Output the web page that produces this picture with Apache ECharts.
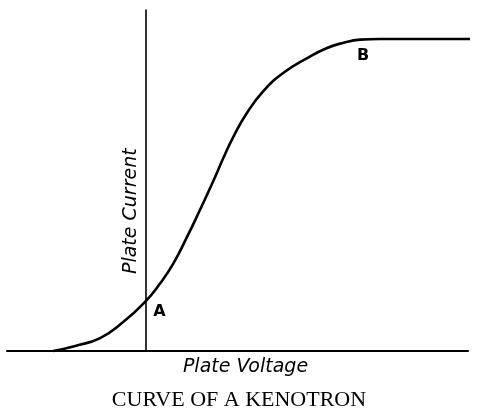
<!DOCTYPE html>
<html>
<head>
<meta charset="utf-8">
<script src="https://cdn.jsdelivr.net/npm/echarts@6/dist/echarts.min.js"></script>
<style>
  html, body { margin: 0; padding: 0; background: #fff; }
  #chart { width: 478px; height: 409px; }
</style>
</head>
<body>
<div id="chart"></div>
<script>
// Plate voltage, arbitrary units, zero where the current axis stands
const voltage = [-20, -15.2, -9.8, -4.8, 0, 3.2, 6.1, 9.0, 11.9, 14.8, 16.9, 19.1, 22.0, 25.6, 29.9, 35.0, 39.3, 43.0, 46.6, 50.9, 72.1];
// Plate current, arbitrary units (saturates at the top)
const current = [0, 1.5, 3.8, 8.5, 14.5, 19.8, 25.7, 33.3, 41.5, 50.0, 56.5, 62.8, 69.7, 76.2, 81.5, 85.8, 88.8, 90.4, 91.3, 91.5, 91.5];
// Letters marking points on the curve, keyed by index
const pointNames = { 4: 'A', 18: 'B' };

const titleText = 'CURVE OF A KENOTRON';
const xName = 'Plate Voltage';
const yName = 'Plate Current';

const labelFor = {
  A: { position: 'right', offset: [3, 10] },
  B: { position: 'bottom', offset: [3, 3] }
};

const seriesData = voltage.map((v, i) => {
  const item = { value: [v, current[i]] };
  const name = pointNames[i];
  if (name) {
    item.label = Object.assign({
      show: true,
      formatter: name,
      color: '#000',
      fontFamily: 'DejaVu Sans',
      fontWeight: 'bold',
      fontSize: 16
    }, labelFor[name]);
  }
  return item;
});

const axisNameStyle = {
  fontFamily: 'DejaVu Sans',
  fontStyle: 'italic',
  fontSize: 19,
  color: '#000'
};

const chart = echarts.init(document.getElementById('chart'), null, { renderer: 'canvas' });
chart.setOption({
  animation: false,
  backgroundColor: '#fff',
  title: {
    text: titleText,
    left: 'center',
    top: 384,
    padding: [5, 0, 5, 10],
    textStyle: {
      fontFamily: 'Liberation Serif',
      fontWeight: 'normal',
      fontSize: 22,
      color: '#000'
    }
  },
  grid: { left: 7, right: 10, top: 10, bottom: 58, containLabel: false, outerBoundsMode: 'none' },
  xAxis: {
    type: 'value',
    min: -30,
    max: 70,
    name: xName,
    nameLocation: 'middle',
    nameGap: 7,
    nameTextStyle: Object.assign({ padding: [0, 0, 0, 16] }, axisNameStyle),
    axisLine: { show: true, onZero: false, lineStyle: { color: '#000', width: 2 } },
    axisTick: { show: false },
    axisLabel: { show: false },
    splitLine: { show: false }
  },
  yAxis: {
    type: 'value',
    min: 0,
    max: 100,
    axisLine: { show: true, onZero: true, lineStyle: { color: '#000', width: 1.6 } },
    axisTick: { show: false },
    axisLabel: { show: false },
    splitLine: { show: false }
  },
  series: [{
    type: 'line',
    data: seriesData,
    smooth: 0.5,
    clip: false,
    symbol: 'circle',
    symbolSize: 0,
    showSymbol: true,
    lineStyle: { color: '#000', width: 2.6 },
    itemStyle: { color: '#000' }
  }]
});

// Current-axis caption, set beside the vertical axis (which sits at zero voltage)
const namePos = chart.convertToPixel({ gridIndex: 0 }, [0, 41]);
chart.setOption({
  graphic: [{
    type: 'text',
    x: namePos[0] - 14,
    y: namePos[1],
    rotation: Math.PI / 2,
    style: {
      text: yName,
      align: 'center',
      verticalAlign: 'middle',
      fill: '#000',
      font: 'italic 19px "DejaVu Sans"'
    }
  }]
});
</script>
</body>
</html>
